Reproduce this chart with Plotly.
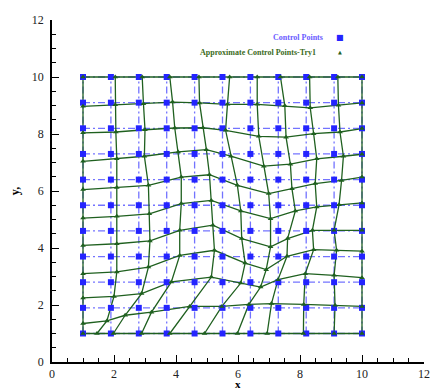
import plotly.graph_objects as go

# Control point grid (regular)
CTRL_X = [1.0, 1.9, 2.8, 3.7, 4.6, 5.5, 6.4, 7.3, 8.2, 9.1, 10.0]
CTRL_Y = [1.0, 1.9, 2.8, 3.7, 4.6, 5.5, 6.4, 7.3, 8.2, 9.1, 10.0]

# Approximate control points (rows from bottom to top, columns left to right)
APPROX_X = [
    [1.0, 1.45, 1.98, 2.89, 3.80, 4.92, 5.98, 6.94, 8.11, 9.10, 10.0],
    [1.0, 1.77, 2.36, 3.21, 4.44, 5.48, 6.35, 7.08, 8.12, 9.13, 10.0],
    [1.0, 2.00, 2.89, 3.85, 5.14, 6.09, 6.73, 7.29, 8.17, 9.10, 10.0],
    [1.0, 2.09, 3.11, 4.12, 5.24, 6.23, 6.91, 7.58, 8.44, 9.18, 10.0],
    [1.0, 2.09, 3.16, 4.12, 5.19, 6.12, 7.05, 7.60, 8.40, 9.10, 10.0],
    [1.0, 2.09, 3.14, 4.17, 5.14, 6.09, 7.05, 7.85, 8.54, 9.26, 10.0],
    [1.0, 2.09, 3.11, 4.17, 5.08, 5.98, 6.99, 7.74, 8.49, 9.34, 10.0],
    [1.0, 2.09, 2.98, 4.07, 4.98, 5.77, 6.83, 7.69, 8.54, 9.40, 10.0],
    [1.0, 2.06, 3.00, 3.96, 4.87, 5.60, 6.67, 7.55, 8.44, 9.29, 10.0],
    [1.0, 2.04, 2.95, 3.89, 4.76, 5.66, 6.62, 7.51, 8.33, 9.24, 10.0],
    [1.0, 2.04, 2.91, 3.80, 4.74, 5.73, 6.62, 7.37, 8.31, 9.22, 10.0],
]
APPROX_Y = [
    [1.00, 1.00, 1.00, 1.00, 1.00, 1.00, 1.00, 1.00, 1.00, 1.00, 1.00],
    [1.35, 1.44, 1.64, 1.75, 1.95, 1.95, 2.02, 2.05, 2.02, 1.99, 1.95],
    [2.25, 2.30, 2.40, 2.81, 2.98, 2.77, 2.63, 2.89, 3.10, 3.04, 2.96],
    [3.10, 3.16, 3.33, 3.74, 3.92, 3.47, 3.24, 3.71, 3.94, 3.92, 3.89],
    [4.09, 4.15, 4.25, 4.62, 4.80, 4.33, 4.04, 4.33, 4.62, 4.62, 4.62],
    [5.05, 5.11, 5.20, 5.56, 5.67, 5.30, 5.03, 5.30, 5.44, 5.52, 5.58],
    [6.05, 6.12, 6.20, 6.49, 6.57, 6.20, 5.91, 6.08, 6.26, 6.37, 6.49],
    [7.04, 7.13, 7.22, 7.37, 7.45, 7.22, 6.87, 6.94, 7.13, 7.22, 7.29],
    [8.04, 8.07, 8.15, 8.21, 8.22, 8.13, 7.92, 7.89, 8.01, 8.07, 8.19],
    [8.97, 9.03, 9.06, 9.12, 9.09, 9.04, 9.04, 8.99, 8.92, 9.01, 9.09],
    [10.0, 10.0, 10.0, 10.0, 10.0, 10.0, 10.0, 10.0, 10.0, 10.0, 10.0],
]

LEGEND_NAMES = ["Control Points", "Approximate Control Points-Try1"]
X_TITLE = "x"
Y_TITLE = "y,"

BLUE_LINE = "rgba(80,80,255,0.8)"
BLUE_MARK = "#2424ff"
GREEN = "#1f601f"
SERIF = "Liberation Serif, Times New Roman, serif"


def grid_path(xs2d, ys2d):
    """Build rows and columns polylines separated by None."""
    px, py = [], []
    n_r, n_c = len(xs2d), len(xs2d[0])
    for r in range(n_r):
        px += list(xs2d[r]) + [None]
        py += list(ys2d[r]) + [None]
    for c in range(n_c):
        px += [xs2d[r][c] for r in range(n_r)] + [None]
        py += [ys2d[r][c] for r in range(n_r)] + [None]
    return px, py


ctrl_x2d = [[x for x in CTRL_X] for _ in CTRL_Y]
ctrl_y2d = [[y for _ in CTRL_X] for y in CTRL_Y]

fig = go.Figure()

bx, by = grid_path(ctrl_x2d, ctrl_y2d)
fig.add_trace(go.Scatter(x=bx, y=by, mode="lines",
                         line=dict(color=BLUE_LINE, width=1.3, dash="7px,3px,2px,3px"),
                         hoverinfo="skip", showlegend=False))

gx, gy = grid_path(APPROX_X, APPROX_Y)
fig.add_trace(go.Scatter(x=gx, y=gy, mode="lines",
                         line=dict(color=GREEN, width=1.3),
                         hoverinfo="skip", showlegend=False))

fig.add_trace(go.Scatter(
    x=[x for row in ctrl_x2d for x in row],
    y=[y for row in ctrl_y2d for y in row],
    mode="markers", name=LEGEND_NAMES[0],
    marker=dict(symbol="square", size=6, color=BLUE_MARK),
    showlegend=False))

fig.add_trace(go.Scatter(
    x=[x for row in APPROX_X for x in row],
    y=[y for row in APPROX_Y for y in row],
    mode="markers", name=LEGEND_NAMES[1],
    marker=dict(symbol="triangle-up", size=5, color=GREEN),
    showlegend=False))

# legend drawn as text (text first, symbol after)
fig.add_annotation(x=0.734, y=0.948, xref="paper", yref="paper",
                   text="<b>" + LEGEND_NAMES[0] + "</b>", showarrow=False,
                   xanchor="right", yanchor="middle",
                   font=dict(family=SERIF, size=8, color="#6a5cff"))
fig.add_annotation(x=0.774, y=0.948, xref="paper", yref="paper",
                   text="■", showarrow=False, xanchor="center", yanchor="middle",
                   font=dict(family="DejaVu Sans", size=8, color=BLUE_MARK))
fig.add_annotation(x=0.716, y=0.906, xref="paper", yref="paper",
                   text="<b>" + LEGEND_NAMES[1] + "</b>", showarrow=False,
                   xanchor="right", yanchor="middle",
                   font=dict(family=SERIF, size=8, color="#3b6b1c"))
fig.add_annotation(x=0.774, y=0.906, xref="paper", yref="paper",
                   text="▲", showarrow=False, xanchor="center", yanchor="middle",
                   font=dict(family="DejaVu Sans", size=5, color=GREEN))

# x axis title as annotation just below tick labels
fig.add_annotation(x=0.5, y=0, xref="paper", yref="paper",
                   text="<b>" + X_TITLE + "</b>", showarrow=False,
                   xanchor="center", yanchor="top", yshift=-14,
                   font=dict(family=SERIF, size=11, color="black"))

axis_common = dict(
    range=[0, 12], dtick=2, tick0=0, showgrid=False, zeroline=False,
    showline=True, linecolor="black", linewidth=1.5, automargin=False,
    ticks="inside", ticklen=7, tickwidth=1.2, tickcolor="black",
    minor=dict(ticks="inside", ticklen=4, dtick=0.5, tickcolor="black", tickwidth=1),
    tickfont=dict(family=SERIF, size=12, color="#222"),
)

fig.update_xaxes(**axis_common, ticklabelstandoff=0)
fig.update_yaxes(**axis_common, ticklabelstandoff=4,
                 title=dict(text="<b>" + Y_TITLE + "</b>", font=dict(family=SERIF, size=12, color="black"), standoff=12))

fig.update_layout(
    width=430, height=382,
    margin=dict(l=44, r=14, t=12, b=28),
    plot_bgcolor="white", paper_bgcolor="white",
    showlegend=False,
)

fig.write_html("out.html")
